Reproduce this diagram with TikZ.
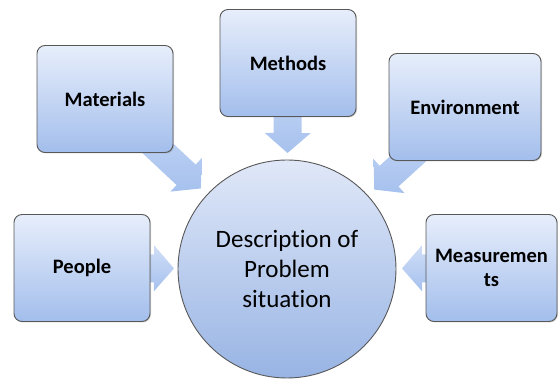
\documentclass[tikz,border=0pt]{standalone}
\usepackage{fontspec}
\setmainfont{Carlito}[Ligatures={NoCommon,NoContextual}]
\usetikzlibrary{calc,backgrounds,shadows}

\definecolor{boxtop}{RGB}{231,238,251}
\definecolor{boxbot}{RGB}{163,190,236}
\definecolor{hubtop}{RGB}{224,232,248}
\definecolor{hubbot}{RGB}{152,180,228}
\definecolor{arrtop}{RGB}{208,222,247}
\definecolor{arrbot}{RGB}{166,193,238}
\definecolor{edge}{RGB}{88,88,88}

% broad arrow from #1 with its tip at #2
\newcommand{\blockarrow}[2]{%
	\coordinate (hb) at ($(#2)!20pt!(#1)$);
	\path[blk] ($(#1)!14pt!90:(#2)$) -- ($(hb)!14pt!90:(#2)$) -- ($(hb)!23pt!90:(#2)$) -- (#2)
		-- ($(hb)!23pt!-90:(#2)$) -- ($(hb)!14pt!-90:(#2)$) -- ($(#1)!14pt!-90:(#2)$) -- cycle;
}

\begin{document}
\begin{tikzpicture}[x=1pt, y=-1pt,
	box/.style={draw=edge, line width=0.9pt, rounded corners=8pt, top color=boxtop, bottom color=boxbot,
		minimum width=136pt, minimum height=107pt, align=center,
		font=\fontsize{20.5}{24}\selectfont\bfseries,
		drop shadow={shadow xshift=1pt, shadow yshift=-1pt, opacity=0.35}},
	hub/.style={circle, draw=edge, line width=0.9pt, top color=hubtop, bottom color=hubbot,
		minimum size=218pt, align=center, font=\fontsize{25}{30}\selectfont},
	blk/.style={top color=arrtop, bottom color=arrbot}
]
	\useasboundingbox (0, 0) rectangle (558, 379);
	\node[hub] (desc) at (287, 269) {Description of\\ Problem\\ situation};
	\node[box] (materials) at (105, 99) {Materials};
	\node[box] (methods) at (288, 63) {Methods};
	\node[box, minimum width=152pt] (environment) at (465, 107) {Environment};
	\node[box] (people) at (82, 268) {People};
	\node[box, minimum width=131pt] (measure) at (491.5, 268) {Measuremen\\ ts};

	\coordinate (tipmat) at ($(desc.center)!118pt!(materials.center)$);
	\coordinate (tipmeth) at ($(desc.center)!116pt!(methods.center)$);
	\coordinate (tipenv) at ($(desc.center)!118pt!(environment.center)$);
	\coordinate (tippeo) at ($(desc.center)!113pt!(people.center)$);
	\coordinate (tipmeas) at ($(desc.center)!115pt!(measure.center)$);

	\begin{scope}[on background layer]
		\blockarrow{materials.center}{tipmat}
		\blockarrow{methods.center}{tipmeth}
		\blockarrow{environment.center}{tipenv}
		\blockarrow{people.center}{tippeo}
		\blockarrow{measure.center}{tipmeas}
	\end{scope}
\end{tikzpicture}
\end{document}
